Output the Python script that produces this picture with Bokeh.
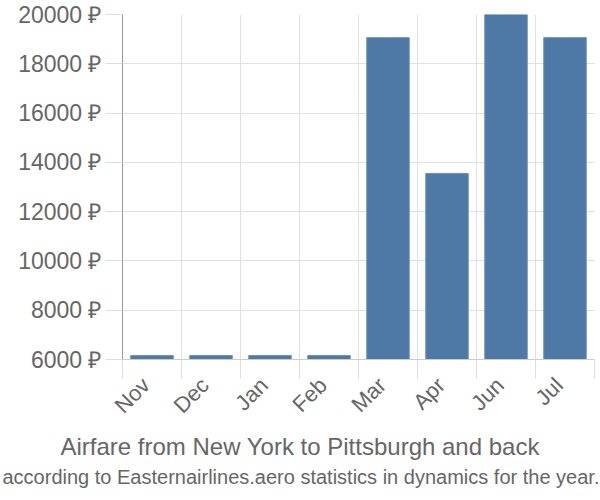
from bokeh.plotting import figure
from bokeh.models import FixedTicker, Range1d, Title, PrintfTickFormatter
from bokeh.embed import file_html
from bokeh.resources import INLINE

months = ["Nov", "Dec", "Jan", "Feb", "Mar", "Apr", "Jun", "Jul"]
prices = [6160, 6160, 6160, 6160, 19060, 13550, 20000, 19060]
y_ticks = [6000, 8000, 10000, 12000, 14000, 16000, 18000, 20000]
title_text = "Airfare from New York to Pittsburgh and back"
subtitle_text = "according to Easternairlines.aero statistics in dynamics for the year."

n = len(months)
centers = [i + 0.5 for i in range(n)]
bounds = list(range(n + 1))
LABEL_SHIFT = 0.1  # rotated labels sit slightly left of the bar centre
label_pos = [c - LABEL_SHIFT for c in centers]

FONT = "Liberation Sans"
GRAY = "#666666"
W = 600
FRAME_LEFT = 122
FRAME_RIGHT_BORDER = 6

p = figure(width=W, height=500, output_backend="svg", toolbar_location=None,
           x_range=Range1d(0, n), y_range=Range1d(y_ticks[0], y_ticks[-1]),
           min_border_left=FRAME_LEFT, min_border_right=FRAME_RIGHT_BORDER,
           min_border_top=14, min_border_bottom=141)
p.outline_line_color = None

p.vbar(x=centers, top=prices, bottom=y_ticks[0], width=0.72, color="#4e79a7", line_color="#6a8fb8", line_width=1)

# y axis
p.yaxis.ticker = FixedTicker(ticks=y_ticks)
p.yaxis.formatter = PrintfTickFormatter(format="%d ₽")
p.yaxis.major_tick_out = 17
p.yaxis.major_tick_in = 0
p.yaxis.major_tick_line_color = "#dddddd"
p.yaxis.minor_tick_line_color = None
p.yaxis.axis_line_color = "#999999"
p.yaxis.major_label_text_font = FONT
p.yaxis.major_label_text_font_size = "23px"
p.yaxis.major_label_text_color = GRAY
p.yaxis.major_label_standoff = 4

# x axis
p.xaxis.ticker = FixedTicker(ticks=label_pos, minor_ticks=bounds)
p.xaxis.major_label_overrides = {c: m for c, m in zip(label_pos, months)}
p.xaxis.major_tick_out = 0
p.xaxis.major_tick_in = 0
p.xaxis.minor_tick_out = 19
p.xaxis.minor_tick_in = 0
p.xaxis.minor_tick_line_color = "#dddddd"
p.xaxis.axis_line_color = "#cccccc"
p.xaxis.major_label_orientation = 0.785398
p.xaxis.major_label_text_font = FONT
p.xaxis.major_label_text_font_size = "22px"
p.xaxis.major_label_text_color = GRAY
p.xaxis.major_label_standoff = 3

p.xgrid.ticker = FixedTicker(ticks=bounds)
p.xgrid.grid_line_color = "#e0e0e0"
p.ygrid.grid_line_color = "#e0e0e0"

# titles: left-aligned with an offset so they sit centred on the canvas
t1 = Title(text=title_text, align="left", text_font=FONT, text_font_size="24px",
           text_color=GRAY, text_font_style="normal", standoff=2, offset=-62)
t2 = Title(text=subtitle_text, align="left", text_font=FONT, text_font_size="20px",
           text_color=GRAY, text_font_style="normal", standoff=6, offset=-120)
p.add_layout(t1, "below")
p.add_layout(t2, "below")

open("out.html", "w").write(file_html(p, INLINE))
